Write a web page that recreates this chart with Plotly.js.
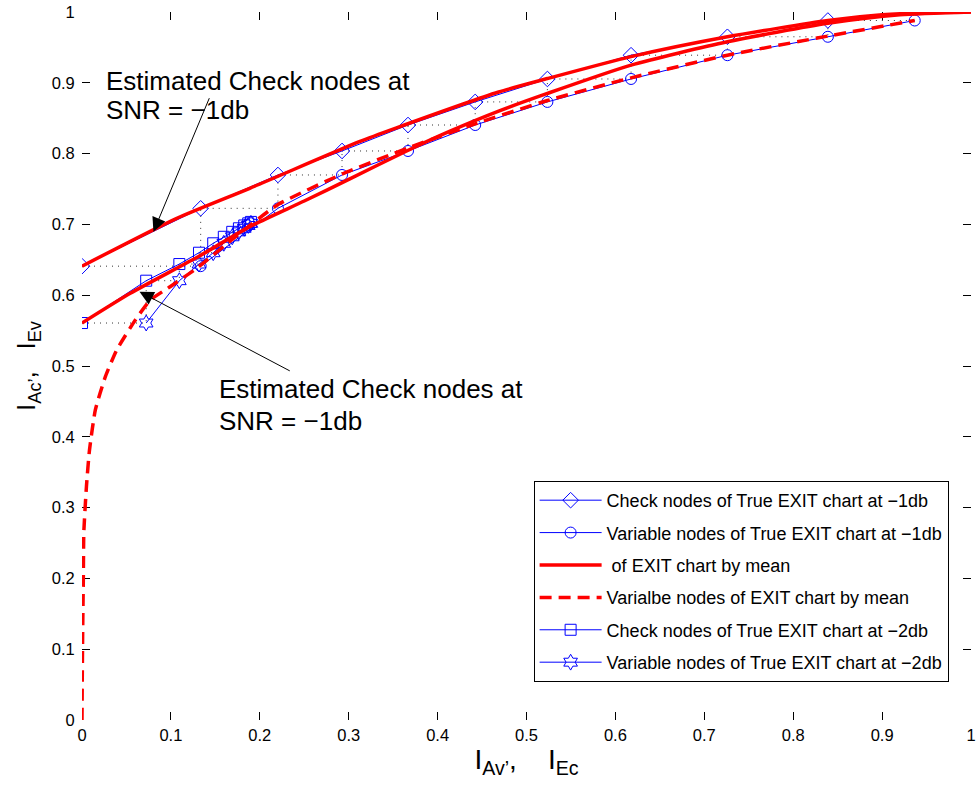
<!DOCTYPE html>
<html>
<head>
<meta charset="utf-8">
<script src="https://cdn.plot.ly/plotly-3.0.1.min.js"></script>
<style>html,body{margin:0;padding:0;background:#fff;}#chart{width:978px;height:787px;}</style>
</head>
<body>
<div id="chart"></div>
<script>
// ---- Data ----
// True EXIT chart at -1 dB: check nodes (diamonds) and variable nodes (circles)
const checkX1 = [0, 0.1335, 0.2204, 0.2925, 0.3667, 0.4423, 0.5235, 0.6176, 0.726, 0.839];
const checkY1 = [0.641, 0.7227, 0.7698, 0.8037, 0.8404, 0.873, 0.9054, 0.939, 0.965, 0.988];
const varX1 = [0.1335, 0.2204, 0.2925, 0.3667, 0.4423, 0.5235, 0.6176, 0.726, 0.839, 0.9367];
const varY1 = [0.641, 0.7227, 0.7698, 0.8037, 0.8404, 0.873, 0.9054, 0.939, 0.965, 0.988];

// True EXIT chart at -2 dB: check nodes (squares) and variable nodes (stars)
const checkX2 = [0, 0.0722, 0.1095, 0.1316, 0.1476, 0.1595, 0.169, 0.1765, 0.1825, 0.187, 0.19];
const checkY2 = [0.5607, 0.6205, 0.644, 0.66, 0.6733, 0.6825, 0.6895, 0.6945, 0.6985, 0.7015, 0.7035];
const varX2 = [0.0722, 0.1095, 0.1316, 0.1476, 0.1595, 0.169, 0.1765, 0.1825, 0.187, 0.19];
const varY2 = [0.5607, 0.6205, 0.644, 0.66, 0.6733, 0.6825, 0.6895, 0.6945, 0.6985, 0.7015];

// Estimated (by mean) check-node curves
const meanCheckX1 = [0, 0.1066, 0.1887, 0.3119, 0.353, 0.4687, 0.5235, 0.6176, 0.726, 0.839, 0.9, 0.95, 1];
const meanCheckY1 = [0.641, 0.7086, 0.751, 0.8168, 0.836, 0.887, 0.906, 0.937, 0.965, 0.988, 0.996, 0.999, 1];
const meanCheckX2 = [0, 0.0543, 0.1316, 0.1887, 0.25, 0.3007, 0.364, 0.4127, 0.4687, 0.5235, 0.6176, 0.726, 0.839, 0.92, 1];
const meanCheckY2 = [0.5607, 0.6027, 0.655, 0.6968, 0.733, 0.764, 0.803, 0.831, 0.86, 0.885, 0.925, 0.958, 0.984, 0.996, 1];

// Estimated (by mean) variable-node curve
const meanVarX = [0, 0.0003, 0.0008, 0.0015, 0.002, 0.005, 0.0084, 0.015, 0.0263, 0.039, 0.06, 0.0767, 0.0991, 0.129, 0.175, 0.2204, 0.2925, 0.3667, 0.4423, 0.5235, 0.6176, 0.726, 0.839, 0.9367];
const meanVarY = [0, 0.06, 0.13, 0.2, 0.264, 0.33, 0.381, 0.438, 0.485, 0.5226, 0.565, 0.593, 0.612, 0.638, 0.685, 0.728, 0.771, 0.808, 0.842, 0.875, 0.907, 0.939, 0.966, 0.988];

const legendNames = [
  'Check nodes of True EXIT chart at \u22121db',
  'Variable nodes of True EXIT chart at \u22121db',
  '\u00a0of EXIT chart by mean',
  'Varialbe nodes of EXIT chart by mean',
  'Check nodes of True EXIT chart at \u22122db',
  'Variable nodes of True EXIT chart at \u22122db'
];
const annoLine1 = 'Estimated Check nodes at';
const annoLine2 = 'SNR = \u22121db';

// staircase (dotted) built from the node arrays
function stairs(cx, cy, vx, vy) {
  const xs = [], ys = [];
  for (let i = 0; i < vx.length; i++) {
    xs.push(cx[i], vx[i]); ys.push(cy[i], vy[i]);
    if (i + 1 < cx.length) { xs.push(cx[i + 1], null); ys.push(cy[i + 1], null); }
  }
  return {xs, ys};
}
const s1 = stairs(checkX1, checkY1, varX1, varY1);
const s2 = stairs(checkX2, checkY2, varX2, varY2);

const BLUE = '#0000ff', RED = '#ff0000';
const traces = [
  {x: s1.xs, y: s1.ys, mode: 'lines', line: {color: '#333', width: 1, dash: '1px,5px'}, showlegend: false, hoverinfo: 'skip', zorder: 0},
  {x: s2.xs, y: s2.ys, mode: 'lines', line: {color: '#333', width: 1, dash: '1px,5px'}, showlegend: false, hoverinfo: 'skip', zorder: 0},
  {x: checkX1, y: checkY1, name: legendNames[0], mode: 'lines+markers', legendgroup: 'a', zorder: 0,
   line: {color: BLUE, width: 1}, marker: {symbol: 'diamond-open', size: 12, color: BLUE, line: {width: 1}}},
  {x: varX1, y: varY1, name: legendNames[1], mode: 'lines+markers', legendgroup: 'b', zorder: 0,
   line: {color: BLUE, width: 1}, marker: {symbol: 'circle-open', size: 11, color: BLUE, line: {width: 1}}},
  {x: meanCheckX1, y: meanCheckY1, name: legendNames[2], mode: 'lines', legendgroup: 'c', zorder: 1,
   line: {color: RED, width: 3.5, shape: 'spline', smoothing: 0.6}},
  {x: meanCheckX2, y: meanCheckY2, name: legendNames[2], mode: 'lines', showlegend: false, legendgroup: 'c', zorder: 1,
   line: {color: RED, width: 3.5, shape: 'spline', smoothing: 0.6}},
  {x: meanVarX, y: meanVarY, name: legendNames[3], mode: 'lines', legendgroup: 'd', zorder: 1,
   line: {color: RED, width: 3.5, dash: '12px,7px', shape: 'spline', smoothing: 0.5}},
  {x: checkX2, y: checkY2, name: legendNames[4], mode: 'lines+markers', legendgroup: 'e', zorder: 0,
   line: {color: BLUE, width: 1}, marker: {symbol: 'square-open', size: 11, color: BLUE, line: {width: 1}}},
  {x: varX2, y: varY2, name: legendNames[5], mode: 'lines+markers', legendgroup: 'f', zorder: 0,
   line: {color: BLUE, width: 1}, marker: {symbol: 'hexagram-open', size: 12, color: BLUE, line: {width: 1}}}
];

const FONT = 'Liberation Sans, Arial, Helvetica, sans-serif';
const axisCommon = {
  range: [0, 1], dtick: 0.1, tick0: 0, ticks: 'inside', ticklen: 8, tickwidth: 1, tickcolor: '#000',
  showline: true, linecolor: '#000', linewidth: 1, mirror: 'ticks', showgrid: false, zeroline: false,
  tickfont: {family: FONT, size: 16.5, color: '#000'}, fixedrange: true, ticklabeloverflow: 'allow'
};

const layout = {
  width: 978, height: 787,
  margin: {l: 82, r: 7, t: 12, b: 67},
  paper_bgcolor: '#fff', plot_bgcolor: '#fff',
  font: {family: FONT, color: '#000'},
  xaxis: Object.assign({}, axisCommon, {
    title: {text: 'I<sub>Av\u2019</sub>,\u00a0\u00a0\u00a0 I<sub>Ec</sub>', font: {family: FONT, size: 28, color: '#000'}, standoff: 6}
  }),
  yaxis: Object.assign({}, axisCommon, {
    ticklabelstandoff: 3,
    title: {text: 'I<sub>Ac\u2019</sub>,\u00a0\u00a0 I<sub>Ev</sub>', font: {family: FONT, size: 26, color: '#000'}, standoff: 8}
  }),
  showlegend: true,
  legend: {
    x: 0.508, y: 0.3376, xanchor: 'left', yanchor: 'top',
    bgcolor: '#fff', bordercolor: '#000', borderwidth: 1,
    font: {family: FONT, size: 18, color: '#000'},
    tracegroupgap: 6, itemwidth: 62, traceorder: 'grouped'
  },
  annotations: [
    {x: 0.0244, y: 0.9025, xref: 'x', yref: 'y', text: annoLine1, showarrow: false, xanchor: 'left', yanchor: 'middle', font: {family: FONT, size: 26, color: '#000'}},
    {x: 0.0244, y: 0.8616, xref: 'x', yref: 'y', text: annoLine2, showarrow: false, xanchor: 'left', yanchor: 'middle', font: {family: FONT, size: 26, color: '#000'}},
    {x: 0.1521, y: 0.4675, xref: 'x', yref: 'y', text: annoLine1, showarrow: false, xanchor: 'left', yanchor: 'middle', font: {family: FONT, size: 26, color: '#000'}},
    {x: 0.1521, y: 0.4223, xref: 'x', yref: 'y', text: annoLine2, showarrow: false, xanchor: 'left', yanchor: 'middle', font: {family: FONT, size: 26, color: '#000'}},
    {x: 0.0804, y: 0.6897, ax: 0.1439, ay: 0.8804, xref: 'x', yref: 'y', axref: 'x', ayref: 'y', text: '', showarrow: true,
     arrowhead: 2, arrowsize: 2.8, arrowwidth: 1, arrowcolor: '#000', standoff: 0},
    {x: 0.0647, y: 0.605, ax: 0.2354, ay: 0.492, xref: 'x', yref: 'y', axref: 'x', ayref: 'y', text: '', showarrow: true,
     arrowhead: 2, arrowsize: 2.8, arrowwidth: 1, arrowcolor: '#000', standoff: 0}
  ]
};

Plotly.newPlot('chart', traces, layout, {displayModeBar: false, staticPlot: true});
</script>
</body>
</html>
